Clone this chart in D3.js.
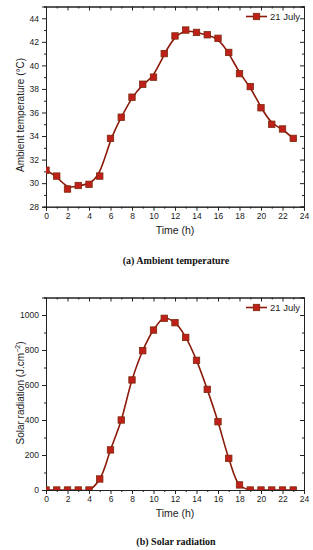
<!DOCTYPE html>
<html>
<head>
<meta charset="utf-8">
<script src="https://cdn.jsdelivr.net/npm/d3@7"></script>
<style>
  body { margin: 0; background: #fff; }
  svg { display: block; font-family: Arial, "Liberation Sans", sans-serif; }
</style>
</head>
<body>
<div id="chart"></div>
<script>
// data
const hours = [0,1,2,3,4,5,6,7,8,9,10,11,12,13,14,15,16,17,18,19,20,21,22,23]
const ambientTemp = [31.1,30.6,29.5,29.8,29.9,30.6,33.8,35.6,37.3,38.4,39.0,41.0,42.5,43.0,42.8,42.6,42.3,41.1,39.3,38.2,36.4,35.0,34.6,33.8]
const solarRad = [0,0,0,0,0,63,229,400,629,796,914,981,956,872,741,575,390,181,29,0,0,0,0,0]
const xTicks = [0,2,4,6,8,10,12,14,16,18,20,22,24]
const tempTicks = [28,30,32,34,36,38,40,42,44]
const radTicks = [0,200,400,600,800,1000]
const seriesName = "21 July"

const W = 313, H = 550
const lineColor = "#8b1a0a"
const markFill = "#c0201a"
const markStroke = "#7a2a0a"

let svg = d3.select("#chart").append("svg")
            .attr("width", W)
            .attr("height", H)

function drawPanel(cfg)
{
  const g = svg.append("g")
  const x = d3.scaleLinear([0, 24], [cfg.left, cfg.right])
  const y = d3.scaleLinear(cfg.yDomain, [cfg.bottom, cfg.top])

  // clip for the marks
  const clipId = "clip_" + cfg.id
  svg.append("clipPath").attr("id", clipId)
     .append("rect")
     .attr("x", cfg.left).attr("y", cfg.top)
     .attr("width", cfg.right - cfg.left).attr("height", cfg.bottom - cfg.top)

  // minor ticks
  const xMinor = d3.range(1, 24, 2)
  const yMinor = d3.range(cfg.yDomain[0] + cfg.yMinorStep, cfg.yDomain[1] + 0.001, cfg.yMinorStep * 2)

  // bottom axis
  g.append("g")
   .attr("transform", `translate(0, ${cfg.bottom})`)
   .call(d3.axisBottom(x).tickValues(xTicks).tickSize(4).tickPadding(2))
  g.append("g")
   .attr("transform", `translate(0, ${cfg.bottom})`)
   .call(d3.axisBottom(x).tickValues(xMinor).tickSize(2).tickFormat(""))
  // top axis (inward)
  g.append("g")
   .attr("transform", `translate(0, ${cfg.top})`)
   .call(d3.axisBottom(x).tickValues(xTicks).tickSize(4).tickFormat(""))
  g.append("g")
   .attr("transform", `translate(0, ${cfg.top})`)
   .call(d3.axisBottom(x).tickValues(xMinor).tickSize(2).tickFormat(""))
  // left axis
  g.append("g")
   .attr("transform", `translate(${cfg.left}, 0)`)
   .call(d3.axisLeft(y).tickValues(cfg.yTicks).tickSize(4).tickPadding(3).tickFormat(d3.format("d")))
  g.append("g")
   .attr("transform", `translate(${cfg.left}, 0)`)
   .call(d3.axisLeft(y).tickValues(yMinor).tickSize(2).tickFormat(""))
  // right axis (inward)
  g.append("g")
   .attr("transform", `translate(${cfg.right}, 0)`)
   .call(d3.axisLeft(y).tickValues(cfg.yTicks).tickSize(4).tickFormat(""))
  g.append("g")
   .attr("transform", `translate(${cfg.right}, 0)`)
   .call(d3.axisLeft(y).tickValues(yMinor).tickSize(2).tickFormat(""))

  g.selectAll(".domain").attr("stroke", "#222").attr("stroke-width", 1)
  g.selectAll(".tick line").attr("stroke", "#222")
  g.selectAll(".tick text").attr("font-size", 8.5).attr("fill", "#222")
   .attr("font-family", "Arial, 'Liberation Sans', sans-serif")

  const pts = hours.map((h, i) => ({ h: h, v: cfg.values[i] }))

  const dMaker = d3.line()
    .x(d => x(d.h))
    .y(d => y(d.v))
    .curve(cfg.curve)

  g.append("path")
   .datum(pts)
   .attr("clip-path", `url(#${clipId})`)
   .attr("fill", "none")
   .attr("stroke", lineColor)
   .attr("stroke-width", 1.6)
   .attr("d", dMaker)

  g.append("g")
   .attr("clip-path", `url(#${clipId})`)
   .selectAll("rect")
   .data(pts)
   .enter()
   .append("rect")
   .attr("x", d => x(d.h) - 3.2)
   .attr("y", d => y(d.v) - 3.2)
   .attr("width", 6.4)
   .attr("height", 6.4)
   .attr("fill", markFill)
   .attr("stroke", markStroke)
   .attr("stroke-width", 0.8)

  // legend
  const ly = cfg.top + 10
  g.append("line")
   .attr("x1", cfg.right - 58).attr("x2", cfg.right - 37)
   .attr("y1", ly).attr("y2", ly)
   .attr("stroke", lineColor).attr("stroke-width", 1.6)
  g.append("rect")
   .attr("x", cfg.right - 47.5 - 3.2).attr("y", ly - 3.2)
   .attr("width", 6.4).attr("height", 6.4)
   .attr("fill", markFill).attr("stroke", markStroke).attr("stroke-width", 0.8)
  g.append("text")
   .attr("x", cfg.right - 34).attr("y", ly + 3.5)
   .attr("font-size", 9.5).attr("fill", "#222")
   .text(seriesName)

  // axis titles
  g.append("text")
   .attr("x", (cfg.left + cfg.right) / 2).attr("y", cfg.bottom + 27)
   .attr("text-anchor", "middle").attr("font-size", 10.5).attr("fill", "#222")
   .text("Time (h)")

  const yt = g.append("text")
   .attr("transform", `translate(24, ${cfg.yTitleY}) rotate(-90)`)
   .attr("text-anchor", "middle").attr("font-size", 10).attr("fill", "#222")
  cfg.yTitle(yt)

  // caption
  g.append("text")
   .attr("x", 176).attr("y", cfg.captionY)
   .attr("text-anchor", "middle")
   .attr("font-family", "'Liberation Serif', 'DejaVu Serif', serif")
   .attr("font-weight", "bold").attr("font-size", 10).attr("fill", "#111")
   .text(cfg.caption)
}

drawPanel({
  id: "a", left: 46, right: 304, top: 6.5, bottom: 206.7,
  yDomain: [28, 45], yTicks: tempTicks, yMinorStep: 1,
  values: ambientTemp, curve: d3.curveBasis,
  yTitleY: 115,
  yTitle: t => { t.text("Ambient temperature (°C)") },
  caption: "(a)  Ambient temperature", captionY: 264
})

drawPanel({
  id: "b", left: 46, right: 304, top: 297.5, bottom: 490,
  yDomain: [0, 1100], yTicks: radTicks, yMinorStep: 100,
  values: solarRad, curve: d3.curveCatmullRom,
  yTitleY: 393,
  yTitle: t => {
    t.append("tspan").text("Solar radiation (J.cm")
    t.append("tspan").attr("dy", -4).attr("font-size", 7).text("−2")
    t.append("tspan").attr("dy", 4).text(")")
  },
  caption: "(b)  Solar radiation", captionY: 545
})
</script>
</body>
</html>
